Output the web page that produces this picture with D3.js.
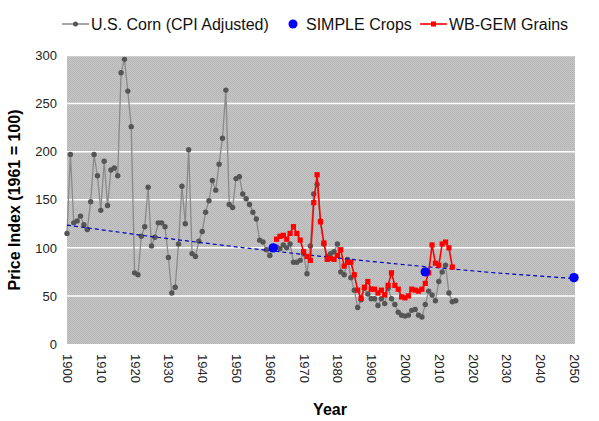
<!DOCTYPE html>
<html><head><meta charset="utf-8">
<script src="https://cdn.jsdelivr.net/npm/d3@7"></script>
<style>
html,body{margin:0;padding:0;background:#fff;}
text{font-family:"Liberation Sans",Arial,sans-serif;}
</style></head>
<body><svg id="c" width="599" height="421"></svg>
<script>
// ---- data ----
const cornStartYear = 1900;
const cornValues = [115,197,126,128,133,124,119,148,197,175,
  139,190,144,181,183,175,282,296,263,226,
  74,72,112,122,163,102,111,126,126,122,
  90,53,59,104,164,125,202,94,91,107,
  117,137,149,170,160,187,214,264,145,142,
  172,174,156,151,145,137,130,108,106,98,
  92,100,101,99,103,100,104,85,85,87,
  94,73,102,156,166,128,104,91,94,96,
  104,75,72,88,69,56,38,46,58,52,
  47,47,40,47,42,58,47,41,33,30,
  29,30,35,36,30,28,41,55,51,45,
  65,75,82,53,44,45];
const grainStartYear = 1962;
const grainValues = [109,112,113,109,115,122,115,108,
  96,91,87,147,176,127,105,88,89,88,
  92,98,81,85,85,72,56,47.5,59,65,
  57,57,53,56,51,61,74,61,57,49,
  48,50,57,56,55,57,63,74,103,84,
  82,104,106,100,80];
const simpleYears = [1961, 2006, 2050];
const simpleValues = [100, 75, 69];
const trendYears = [1900, 1925, 1950, 1975, 2000, 2025, 2050];
const trendValues = [123.6, 111.7, 101, 91.2, 82.4, 74.5, 68];
const xTicks = [1900,1910,1920,1930,1940,1950,1960,1970,1980,1990,2000,2010,2020,2030,2040,2050];
const yTicks = [0,50,100,150,200,250,300];
const legendLabels = ["U.S. Corn (CPI Adjusted)", "SIMPLE Crops", "WB-GEM Grains"];

const corn = cornValues.map((v,i)=>({x:cornStartYear+i, y:v}));
const grain = grainValues.map((v,i)=>({x:grainStartYear+i, y:v}));
const simple = simpleYears.map((x,i)=>({x, y:simpleValues[i]}));
const trend = trendYears.map((x,i)=>({x, y:trendValues[i]}));

// ---- layout ----
const svg = d3.select("#c");
const L=67, R=574, T=55.5, B=344;
const x = d3.scaleLinear().domain([1900,2050]).range([L,R]);
const y = d3.scaleLinear().domain([0,300]).range([B,T]);

// defs: stipple pattern for plot background
const defs = svg.append("defs");
const pat = defs.append("pattern").attr("id","stip").attr("width",2).attr("height",2).attr("patternUnits","userSpaceOnUse");
pat.append("rect").attr("width",2).attr("height",2).attr("fill","#c6c6c6");
pat.append("rect").attr("width",1).attr("height",1).attr("fill","#b4b4b4");
pat.append("rect").attr("x",1).attr("y",1).attr("width",1).attr("height",1).attr("fill","#b8b8b8");

svg.append("rect").attr("x",L).attr("y",T).attr("width",R-L+1).attr("height",B-T).attr("fill","url(#stip)");

// gridlines
svg.append("g").selectAll("line").data(yTicks.filter(d=>d>0)).join("line")
  .attr("x1",L).attr("x2",R+1).attr("y1",d=>y(d)).attr("y2",d=>y(d))
  .attr("stroke","#fff").attr("stroke-width",1.5);

// y axis
const yAxis = svg.append("g").attr("transform",`translate(${L},0)`)
  .call(d3.axisLeft(y).tickValues(yTicks).tickSize(0).tickPadding(10));
yAxis.select(".domain").remove();
yAxis.selectAll("text").attr("font-size",13).attr("fill","#222").attr("font-family","Liberation Sans, Arial, sans-serif");

// x axis (labels rotated)
const xAxis = svg.append("g").attr("transform",`translate(0,${B})`)
  .call(d3.axisBottom(x).tickValues(xTicks).tickFormat(d3.format("d")).tickSize(0));
xAxis.select(".domain").remove();
xAxis.selectAll("text")
  .attr("font-size",13).attr("fill","#222").attr("font-family","Liberation Sans, Arial, sans-serif")
  .attr("transform","rotate(90)").attr("text-anchor","start")
  .attr("x",10).attr("y",0).attr("dy","0.35em");

// axis titles
svg.append("text").attr("x",330).attr("y",415).attr("text-anchor","middle")
  .attr("font-size",16).attr("font-weight","bold").text("Year");
svg.append("text").attr("transform","translate(20,200) rotate(-90)").attr("text-anchor","middle")
  .attr("font-size",16).attr("font-weight","bold").text("Price Index (1961 = 100)");

const line = d3.line().x(d=>x(d.x)).y(d=>y(d.y));

// corn
svg.append("path").datum(corn).attr("d",line).attr("fill","none").attr("stroke","#8a8a8a").attr("stroke-width",1.3);
svg.append("g").selectAll("circle").data(corn).join("circle")
  .attr("cx",d=>x(d.x)).attr("cy",d=>y(d.y)).attr("r",2.7).attr("fill","#555");

// trend
svg.append("path").datum(trend).attr("d",line).attr("fill","none").attr("stroke","#0000c8")
  .attr("stroke-width",1.2).attr("stroke-dasharray","4,3");

// grains
svg.append("path").datum(grain).attr("d",line).attr("fill","none").attr("stroke","#ff0000").attr("stroke-width",1.6);
svg.append("g").selectAll("rect").data(grain).join("rect")
  .attr("x",d=>x(d.x)-2.6).attr("y",d=>y(d.y)-2.6).attr("width",5.2).attr("height",5.2).attr("fill","#ff0000");

// simple
svg.append("g").selectAll("circle").data(simple).join("circle")
  .attr("cx",d=>x(d.x)).attr("cy",d=>y(d.y)).attr("r",4.7).attr("fill","#0000ff");

// legend
const lg = svg.append("g").attr("font-size",16).attr("fill","#111");
lg.append("line").attr("x1",62).attr("x2",89).attr("y1",24).attr("y2",24).attr("stroke","#777").attr("stroke-width",1.3);
lg.append("circle").attr("cx",75.5).attr("cy",24).attr("r",2.5).attr("fill","#555");
lg.append("text").attr("x",91).attr("y",30).text(legendLabels[0]);
lg.append("circle").attr("cx",293).attr("cy",24).attr("r",4.5).attr("fill","#0000ff");
lg.append("text").attr("x",306).attr("y",30).text(legendLabels[1]);
lg.append("line").attr("x1",420).attr("x2",447).attr("y1",24).attr("y2",24).attr("stroke","#ff0000").attr("stroke-width",1.6);
lg.append("rect").attr("x",431).attr("y",21.5).attr("width",5).attr("height",5).attr("fill","#ff0000");
lg.append("text").attr("x",449).attr("y",30).text(legendLabels[2]);
</script></body></html>
